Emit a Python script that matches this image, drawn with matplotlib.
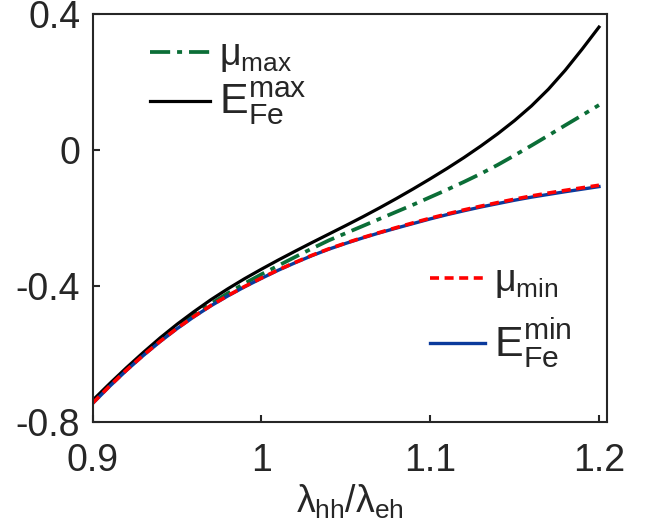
import matplotlib
matplotlib.use("Agg")
import matplotlib.pyplot as plt

plt.rcParams['font.family'] = ['Liberation Sans', 'DejaVu Sans']
plt.rcParams['mathtext.fontset'] = 'custom'
plt.rcParams['mathtext.rm'] = 'Liberation Sans'
plt.rcParams['mathtext.it'] = 'Liberation Sans'
plt.rcParams['mathtext.bf'] = 'Liberation Sans:bold'
plt.rcParams['lines.scale_dashes'] = False

# ---- data ----
ratio = [0.90, 0.91, 0.92, 0.93, 0.94, 0.95, 0.96, 0.97, 0.98, 0.99,
         1.00, 1.01, 1.02, 1.03, 1.04, 1.05, 1.06, 1.07, 1.08, 1.09,
         1.10, 1.11, 1.12, 1.13, 1.14, 1.15, 1.16, 1.17, 1.18, 1.19, 1.20]
E_max = [-0.737, -0.688, -0.641, -0.596, -0.553, -0.513, -0.476, -0.441, -0.409, -0.379,
         -0.351, -0.324, -0.298, -0.2725, -0.2475, -0.2225, -0.197, -0.1705, -0.143, -0.1145,
         -0.085, -0.0545, -0.0225, 0.0115, 0.0475, 0.0865, 0.1295, 0.1785, 0.2345, 0.2965, 0.3615]
mu_max = [-0.740, -0.692, -0.646, -0.602, -0.561, -0.522, -0.486, -0.453, -0.422, -0.393,
          -0.366, -0.3405, -0.315, -0.290, -0.266, -0.245, -0.224, -0.203, -0.182, -0.161,
          -0.139, -0.117, -0.094, -0.070, -0.044, -0.016, 0.013, 0.0425, 0.0725, 0.102, 0.132]
mu_min = [-0.745, -0.695, -0.648, -0.604, -0.563, -0.525, -0.490, -0.458, -0.429, -0.402,
          -0.377, -0.353, -0.331, -0.310, -0.291, -0.274, -0.258, -0.243, -0.2285, -0.2145,
          -0.201, -0.1885, -0.1765, -0.1655, -0.155, -0.145, -0.1355, -0.127, -0.119, -0.1115, -0.104]
E_min = [-0.746, -0.696, -0.649, -0.605, -0.564, -0.526, -0.491, -0.459, -0.430, -0.403,
         -0.378, -0.354, -0.332, -0.311, -0.292, -0.275, -0.259, -0.244, -0.230, -0.2165,
         -0.203, -0.1905, -0.179, -0.168, -0.158, -0.148, -0.139, -0.131, -0.123, -0.1155, -0.108]

xticks = [0.9, 1.0, 1.1, 1.2]
xtick_labels = ['0.9', '1', '1.1', '1.2']
yticks = [-0.8, -0.4, 0.0, 0.4]
ytick_labels = ['-0.8', '-0.4', '0', '0.4']

GREEN = '#0b6e37'
RED = '#ff0000'
BLUE = '#0a3a9c'
AXC = '#262626'

fig = plt.figure(figsize=(6.59, 5.29), dpi=100)
ax = fig.add_axes([0.1407, 0.2028, 0.7800, 0.7707])

l_mumax, = ax.plot(ratio, mu_max, color=GREEN, lw=2.7,
                   linestyle=(0, (14.5, 5.0, 3.6, 5.0)))
l_emax, = ax.plot(ratio, E_max, color='black', lw=2.3)
l_emin, = ax.plot(ratio, E_min, color=BLUE, lw=2.4)
l_mumin, = ax.plot(ratio, mu_min, color=RED, lw=2.6,
                   linestyle=(0, (6.5, 4.0)))

ax.set_xlim(0.9, 1.2046)
ax.set_ylim(-0.8, 0.4)
ax.set_xticks(xticks)
ax.set_xticklabels(xtick_labels)
ax.set_yticks(yticks)
ax.set_yticklabels(ytick_labels)

for s in ax.spines.values():
    s.set_color(AXC)
    s.set_linewidth(1.5)
ax.tick_params(direction='in', length=5, width=1.5, color=AXC,
               labelsize=27, labelcolor=AXC)
ax.tick_params(axis='x', pad=15)
ax.tick_params(axis='y', pad=9)

ax.set_xlabel(r'$\lambda_{\rm hh}/\lambda_{\rm eh}$', fontsize=27, color=AXC, labelpad=3)

leg1 = ax.legend([l_mumax, l_emax],
                 [r'$\mu_{\rm max}$', r'$\mathrm{E}_{\rm Fe}^{\rm max}$'],
                 loc='upper left', bbox_to_anchor=(0.074, 0.99),
                 frameon=False, fontsize=27, handlelength=1.6,
                 handletextpad=0.25, labelspacing=0.15, borderpad=0.0)
leg1.get_texts()[1].set_fontsize(31)
for t in leg1.get_texts():
    t.set_color(AXC)
ax.add_artist(leg1)

leg2 = ax.legend([l_mumin, l_emin],
                 [r'$\mu_{\rm min}$', r'$\mathrm{E}_{\rm Fe}^{\rm min}$'],
                 loc='upper left', bbox_to_anchor=(0.62, 0.435),
                 frameon=False, fontsize=27, handlelength=1.45,
                 handletextpad=0.25, labelspacing=0.42, borderpad=0.0)
leg2.get_texts()[1].set_fontsize(31)
for t in leg2.get_texts():
    t.set_color(AXC)

fig.savefig('out.png', dpi=100)
